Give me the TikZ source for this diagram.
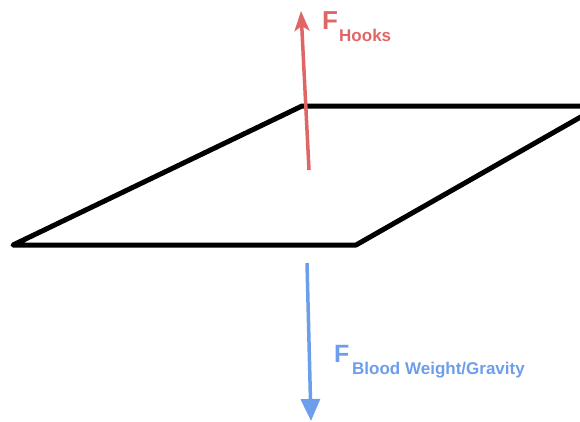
\documentclass[tikz,border=0pt]{standalone}
\usepackage{fontspec}
\setmainfont{Liberation Sans}
\usetikzlibrary{arrows.meta}
\definecolor{hookred}{HTML}{E06666}
\definecolor{gravblue}{HTML}{6D9EEB}
\tikzset{
  plate/.style={line width=5pt, line join=round, draw=black},
  redarrow/.style={line width=3.5pt, draw=hookred, fill=hookred, -{Stealth[length=20pt,width=15pt,inset=5pt]}},
  bluearrow/.style={line width=3.5pt, draw=gravblue, fill=gravblue, -{Triangle[length=22pt,width=19pt]}},
  biglabel/.style={inner sep=0pt, anchor=base west, font=\bfseries\fontsize{26}{26}\selectfont},
  sublabel/.style={inner sep=0pt, anchor=base west, font=\bfseries\fontsize{17}{17}\selectfont}
}
\begin{document}
\begin{tikzpicture}[x=1pt,y=-1pt]
\useasboundingbox (0,0) rectangle (580,421);
\coordinate (bl) at (13,245);
\coordinate (br) at (356,245);
\coordinate (tr) at (600,106);
\coordinate (tl) at (302,106);
\clip (0,0) rectangle (580,421);
\draw[plate] (tr) -- (tl) -- (bl) -- (br) -- cycle;
\coordinate (rs) at (309,170);
\coordinate (re) at (301,11);
\draw[redarrow] (rs) -- (re);
\coordinate (bs) at (307,263);
\coordinate (be) at (311,421);
\draw[bluearrow] (bs) -- (be);
\node[biglabel, text=hookred] (fh) at (322,29) {F};
\node[sublabel, text=hookred] (hk) at (339,41) {Hooks};
\node[biglabel, text=gravblue, font=\bfseries\fontsize{25}{25}\selectfont] (fb) at (334,362) {F};
\node[sublabel, text=gravblue] (bw) at (352,374) {Blood Weight/Gravity};
\end{tikzpicture}
\end{document}
